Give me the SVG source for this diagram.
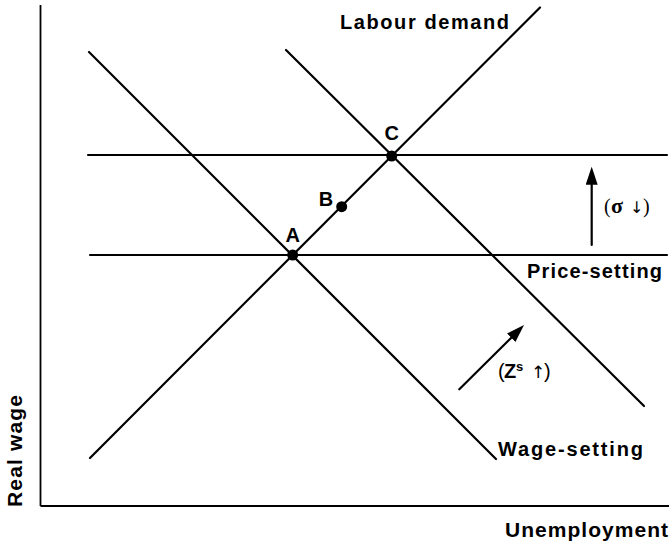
<svg xmlns="http://www.w3.org/2000/svg" width="669" height="546" viewBox="0 0 669 546">
<style>
.ln{stroke:#000;stroke-width:2.2;fill:none;stroke-linecap:round}
.ax{stroke:#000;stroke-width:1.8;fill:none}
.lbl{font-family:"Liberation Sans",Arial,sans-serif;font-size:20px;font-weight:bold;fill:#000}
.axl{font-family:"Liberation Sans",Arial,sans-serif;font-size:21px;font-weight:bold;fill:#000}
.arw{font-family:"DejaVu Sans",sans-serif;font-weight:normal}
.srf{font-family:"Liberation Serif",serif;font-weight:normal}
.pt{fill:#000}
</style>
<defs>
<marker id="head" markerUnits="userSpaceOnUse" markerWidth="18" markerHeight="12" refX="8" refY="6" orient="auto">
<path d="M0,0 L18,6 L0,12 z" fill="#000"/>
</marker>
</defs>
<g id="axes">
<line class="ax" x1="40.5" y1="5" x2="40.5" y2="506"/>
<line class="ax" x1="40.5" y1="506" x2="669" y2="506"/>
<text class="axl" transform="translate(22,507) rotate(-90)" textLength="112" lengthAdjust="spacing">Real wage</text>
<text class="axl" x="505" y="537" textLength="163" lengthAdjust="spacing">Unemployment</text>
</g>
<g id="connectors">
<line id="price-setting-high" class="ln" x1="88" y1="155" x2="667" y2="155"/>
<line id="price-setting-low" class="ln" x1="90" y1="255" x2="667" y2="255"/>
<line id="wage-setting-1" class="ln" x1="89" y1="52" x2="496" y2="459"/>
<line id="wage-setting-2" class="ln" x1="286" y1="50" x2="644" y2="406"/>
<line id="labour-demand" class="ln" x1="90" y1="458" x2="540" y2="7.5"/>
<line id="arrow-sigma" class="ln" x1="591.7" y1="245" x2="591.7" y2="176.7" marker-end="url(#head)"/>
<line id="arrow-zs" class="ln" x1="459.3" y1="389.3" x2="516.9" y2="332.1" marker-end="url(#head)"/>
</g>
<g id="labels">
<text class="lbl" x="340" y="29" textLength="169" lengthAdjust="spacing">Labour demand</text>
<text class="lbl" x="527" y="278" textLength="135" lengthAdjust="spacing">Price-setting</text>
<text class="lbl" x="498" y="456" textLength="145" lengthAdjust="spacing">Wage-setting</text>
<text class="lbl" style="font-weight:normal"><tspan x="498" y="378">(</tspan><tspan x="504" y="378" style="font-weight:bold">Z</tspan><tspan x="516" y="371" style="font-size:13px;font-weight:bold">s</tspan><tspan class="arw" x="531" y="378" style="font-size:17px">↑</tspan><tspan x="544" y="378">)</tspan></text>
<text class="lbl"><tspan class="srf" x="604" y="213">(</tspan><tspan class="srf" x="611" y="213" style="font-size:22px;font-weight:bold">σ</tspan><tspan class="arw" x="630" y="213" style="font-size:16px">↓</tspan><tspan class="srf" x="643" y="213">)</tspan></text>
</g>
<g id="A">
<circle class="pt" cx="292.7" cy="255" r="5.5"/>
<text class="lbl" x="292.7" y="242" text-anchor="middle">A</text>
</g>
<g id="B">
<circle class="pt" cx="341.7" cy="206.7" r="5.5"/>
<text class="lbl" x="326" y="206" text-anchor="middle">B</text>
</g>
<g id="C">
<circle class="pt" cx="391.7" cy="156" r="5.5"/>
<text class="lbl" x="391.7" y="140" text-anchor="middle">C</text>
</g>
</svg>
